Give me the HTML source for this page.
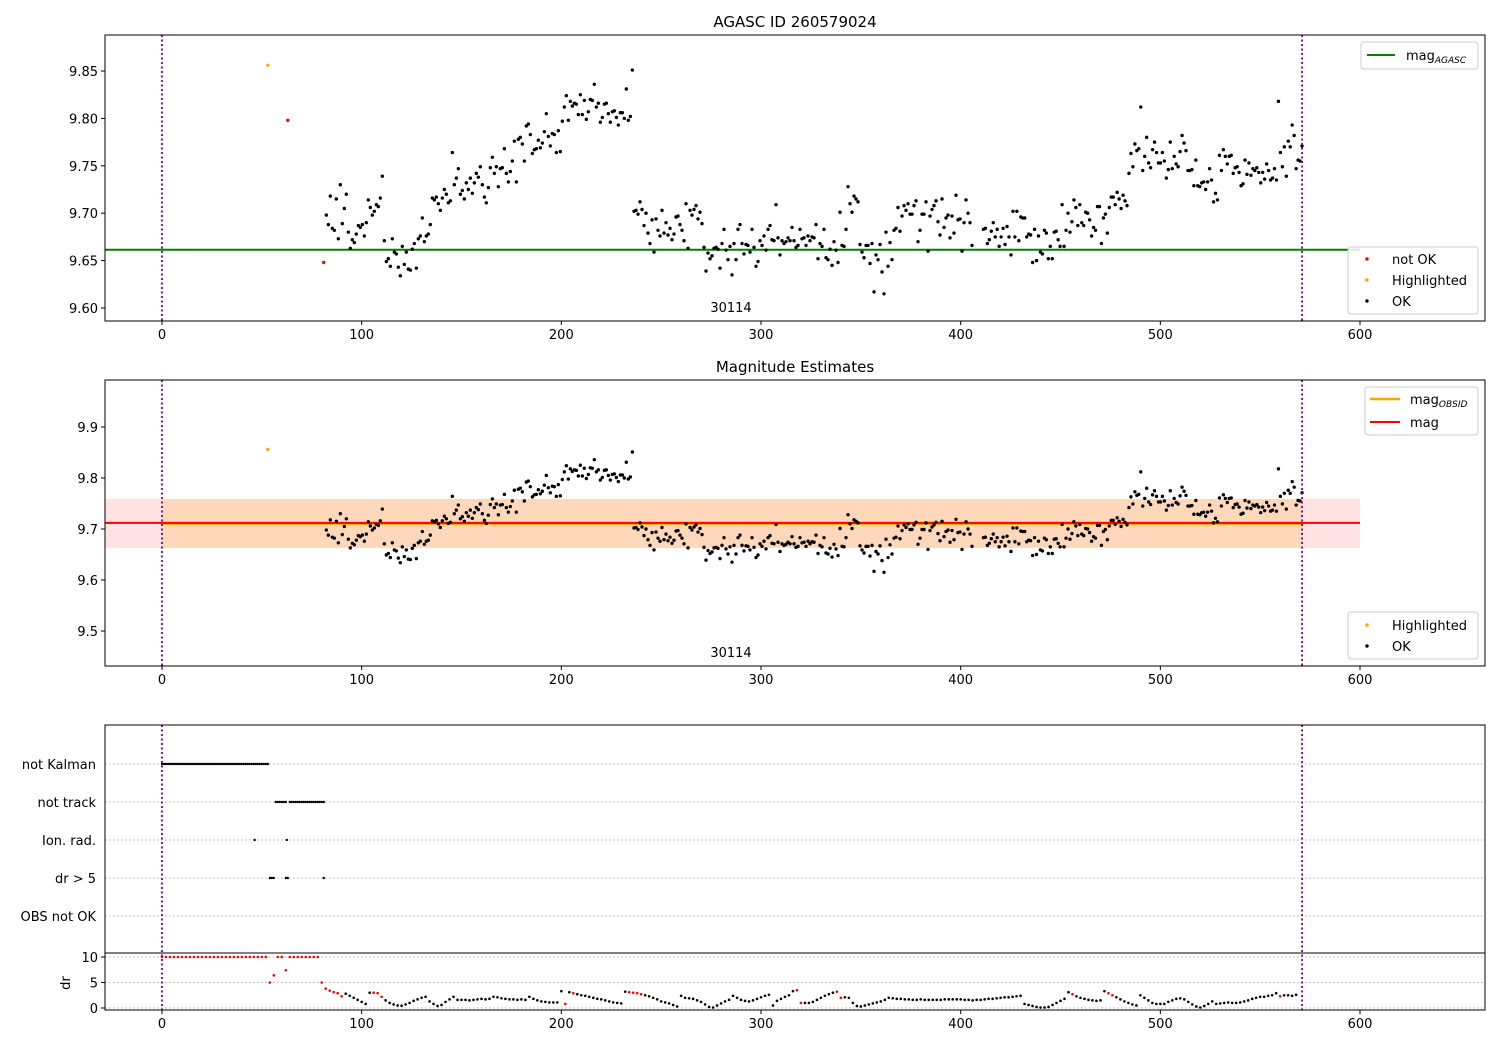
<!DOCTYPE html>
<html><head><meta charset="utf-8"><title>AGASC ID 260579024</title>
<style>
html,body{margin:0;padding:0;background:#fff;}
svg{display:block;font-family:"DejaVu Sans","Liberation Sans",sans-serif;}
</style></head>
<body>
<svg id="fig" xmlns="http://www.w3.org/2000/svg" width="1500" height="1050" viewBox="0 0 1500 1050">
<rect x="0" y="0" width="1500" height="1050" fill="#fff"/>
<text x="795" y="27" font-size="15" text-anchor="middle">AGASC ID 260579024</text>
<text x="795" y="372" font-size="15" text-anchor="middle">Magnitude Estimates</text>
<g id="p1"></g>
<g id="p2"></g>
<g id="p3"></g>
</svg>
<script>
// ---- data ----
const segAStart = 82.3, segAStep = 1.0017;
const segAMag = [9.698,9.688,9.718,9.684,9.682,9.715,9.673,9.730,9.689,9.705,9.720,9.680,9.663,9.672,9.669,9.678,9.687,9.685,9.688,9.676,9.690,9.714,9.706,9.698,9.702,9.709,9.707,9.716,9.739,9.671,9.649,9.652,9.644,9.673,9.659,9.657,9.643,9.634,9.665,9.646,9.659,9.641,9.640,9.662,9.668,9.642,9.673,9.676,9.695,9.670,9.676,9.678,9.688,9.716,9.714,9.717,9.710,9.703,9.716,9.725,9.720,9.711,9.713,9.764,9.730,9.737,9.747,9.720,9.724,9.715,9.732,9.725,9.737,9.721,9.732,9.742,9.738,9.749,9.730,9.717,9.711,9.727,9.748,9.759,9.742,9.749,9.728,9.747,9.748,9.768,9.742,9.733,9.744,9.755,9.776,9.733,9.778,9.780,9.773,9.755,9.792,9.794,9.783,9.763,9.767,9.768,9.777,9.769,9.774,9.786,9.805,9.781,9.771,9.784,9.783,9.764,9.787,9.765,9.797,9.812,9.824,9.798,9.818,9.813,9.816,9.815,9.804,9.825,9.804,9.819,9.799,9.807,9.820,9.819,9.836,9.812,9.816,9.796,9.801,9.815,9.816,9.805,9.796,9.807,9.808,9.801,9.793,9.806,9.806,9.800,9.831,9.798,9.802,9.851];
const segBStart = 236.4, segBStep = 1.0017;
const segBMag = [9.702,9.703,9.699,9.712,9.704,9.687,9.700,9.679,9.668,9.693,9.659,9.694,9.682,9.676,9.703,9.679,9.690,9.677,9.684,9.672,9.678,9.696,9.697,9.688,9.682,9.671,9.710,9.663,9.703,9.698,9.704,9.708,9.694,9.701,9.689,9.664,9.639,9.658,9.652,9.655,9.663,9.664,9.662,9.642,9.668,9.683,9.661,9.651,9.665,9.635,9.668,9.651,9.683,9.688,9.668,9.657,9.667,9.666,9.659,9.683,9.664,9.644,9.649,9.671,9.666,9.676,9.661,9.683,9.687,9.672,9.671,9.709,9.674,9.656,9.671,9.668,9.670,9.674,9.671,9.685,9.671,9.664,9.666,9.683,9.673,9.674,9.666,9.676,9.671,9.675,9.674,9.688,9.652,9.668,9.665,9.683,9.653,9.651,9.662,9.645,9.670,9.661,9.648,9.701,9.666,9.665,9.683,9.728,9.710,9.701,9.718,9.715,9.712,9.667,9.659,9.653,9.666,9.666,9.647,9.668,9.617,9.656,9.651,9.667,9.638,9.615,9.680,9.644,9.669,9.651,9.682,9.684,9.706,9.681,9.697,9.708,9.703,9.710,9.699,9.699,9.708,9.713,9.670,9.682,9.699,9.699,9.712,9.660,9.697,9.704,9.708,9.713,9.691,9.677,9.715,9.685,9.695,9.698,9.674,9.697,9.679,9.719,9.693,9.694,9.660,9.690,9.714,9.700,9.690,9.666];
const segCStart = 411.4, segCStep = 0.985;
const segCMag = [9.683,9.684,9.668,9.672,9.681,9.690,9.675,9.683,9.665,9.675,9.684,9.667,9.686,9.675,9.656,9.702,9.675,9.702,9.671,9.696,9.695,9.695,9.675,9.678,9.677,9.648,9.683,9.650,9.676,9.659,9.657,9.682,9.679,9.652,9.665,9.652,9.680,9.681,9.672,9.665,9.709,9.665,9.682,9.700,9.680,9.691,9.714,9.706,9.687,9.709,9.690,9.687,9.701,9.700,9.693,9.676,9.685,9.682,9.707,9.707,9.668,9.695,9.699,9.679,9.706,9.717,9.717,9.709,9.722,9.715,9.705,9.719,9.713,9.708,9.742,9.763,9.749,9.773,9.766,9.768,9.812,9.745,9.760,9.780,9.753,9.748,9.767,9.775,9.764,9.753,9.753,9.764,9.755,9.737,9.746,9.775,9.747,9.760,9.752,9.749,9.765,9.782,9.774,9.766,9.745,9.745,9.746,9.729,9.756,9.729,9.728,9.732,9.733,9.725,9.733,9.747,9.735,9.712,9.721,9.714,9.761,9.745,9.767,9.760,9.752,9.760,9.761,9.742,9.748,9.749,9.743,9.729,9.731,9.756,9.741,9.753,9.740,9.747,9.745,9.748,9.743,9.732,9.743,9.736,9.752,9.745,9.735,9.737,9.747,9.735,9.818,9.764,9.749,9.770,9.739,9.776,9.770,9.793,9.782,9.747,9.756,9.755,9.771];
const highlightT = [53];
const highlightMag = [9.856];
const notOkT = [63, 81];
const notOkMag = [9.798, 9.648];
const magAgasc = 9.6615;
const magObsid = 9.712;
const magMean = 9.712;
const magBandLow = 9.663;
const magBandHigh = 9.759;
const obsStart = 0, obsStop = 571;
const xTicks = [0,100,200,300,400,500,600];
const y1Ticks = ["9.60","9.65","9.70","9.75","9.80","9.85"];
const y2Ticks = ["9.5","9.6","9.7","9.8","9.9"];
const flagCats = ["not Kalman","not track","Ion. rad.","dr > 5","OBS not OK"];
const notKalmanRanges = [[0,53]];
const notTrackRanges = [[57,62],[64,81]];
const ionRadTimes = [46.4, 62.5];
const drGt5Ranges = [[54,56.5],[62,63],[81,81]];
const drStart = 0, drStep = 2;
const drVals = [10,10,10,10,10,10,10,10,10,10,10,10,10,10,10,10,10,10,10,10,10,10,10,10,10,10,10,
5.0,6.4,10,10,7.4,10,10,10,10,10,10,10,10,5.0,3.8,3.4,3.1,2.9,2.3,2.8,2.4,2.0,1.6,1.2,0.8,3.0,3.0,2.9,2.2,1.5,1.0,0.7,0.5,0.45,0.7,1.0,1.4,1.7,2.0,2.2,1.3,0.8,0.4,0.6,1.2,1.7,2.2,1.6,1.6,1.6,1.5,1.6,1.7,1.8,1.7,1.8,2.2,2.1,1.9,1.8,1.7,1.7,1.6,1.7,1.6,2.2,1.8,1.5,1.3,1.2,1.1,1.1,1.1,3.3,0.8,3.1,2.9,2.7,2.5,2.4,2.2,2.0,1.8,1.7,1.5,1.3,1.1,1.0,0.9,3.2,3.1,3.0,2.9,2.7,2.5,2.3,2.0,1.7,1.3,1.1,0.9,0.6,0.3,2.4,2.0,1.9,1.8,1.5,1.2,0.7,0.2,0.1,0.5,0.9,1.3,1.6,2.4,2.0,1.6,1.4,1.3,1.5,1.8,2.1,2.4,2.6,0.5,1.4,1.8,2.2,2.5,3.3,3.5,1.0,1.0,1.0,1.2,1.6,2.0,2.4,2.7,3.0,3.2,2.0,2.1,2.0,1.0,0.4,0.3,0.5,0.7,0.9,1.1,1.3,1.6,2.0,1.9,
1.8,1.8,1.7,1.7,1.6,1.6,1.7,1.6,1.6,1.6,1.6,1.6,1.7,1.7,1.7,1.7,1.7,1.6,1.6,1.5,1.6,1.6,1.7,1.8,1.8,1.9,
2.0,2.1,2.1,2.2,2.3,2.4,0.8,0.6,0.4,0.2,0.1,0.1,0.2,0.6,1.0,1.4,1.8,3.1,2.7,2.3,2.0,1.8,1.6,1.5,1.4,1.5,3.3,2.9,2.5,2.1,1.7,1.3,1.0,0.7,0.5,2.5,2.0,1.5,1.0,0.8,0.8,0.8,1.2,1.5,1.8,1.9,1.7,1.2,0.7,0.3,0.1,0.4,0.8,1.3,0.8,0.9,1.0,1.1,1.0,1.0,1.1,1.3,1.5,1.8,2.0,2.2,2.2,2.4,2.5,2.9,2.3,2.5,2.5,2.4,2.6];
const drRedRanges = [[0,91],[106,110],[202,202],[206,206],[234,240],[318,320],[338,340],[456,456],[474,476],[560,560]];
const drTicks = [0,5,10];

// ---- scales ----
const NS = "http://www.w3.org/2000/svg";
const X0 = 105, X1 = 1485;
function xS(t){ return 162 + t*1.99667; }
function y1(m){ return 71 + (9.85-m)*948; }
function y2(m){ return 427 + (9.9-m)*510; }
function catY(i){ return 764 + 38*i; }
function drY(d){ return 1008 - d*5.1; }
function mk(tag, attrs, parent){
  const e = document.createElementNS(NS, tag);
  for (const k in attrs) e.setAttribute(k, attrs[k]);
  parent.appendChild(e);
  return e;
}
const p1 = document.getElementById('p1');
const p2 = document.getElementById('p2');
const p3 = document.getElementById('p3');

function allPoints(){
  const pts = [];
  [[segAStart,segAStep,segAMag],[segBStart,segBStep,segBMag],[segCStart,segCStep,segCMag]].forEach(s=>{
    s[2].forEach((m,i)=>pts.push([s[0]+i*s[1], m]));
  });
  return pts;
}
const pts = allPoints();

function frame(g, top, bottom, name){
  const r = mk('rect',{x:X0,y:top,width:X1-X0,height:bottom-top,fill:'none',stroke:'#000','stroke-width':1},g);
  
  
}
function xAxis(g, bottom, name){
  const ax = mk('g',{},g);
  
  
  xTicks.forEach(v=>{
    const x = xS(v);
    mk('line',{x1:x,y1:bottom,x2:x,y2:bottom+4,stroke:'#000'},ax);
    const t = mk('text',{x:x,y:bottom+18,'font-size':13,'text-anchor':'middle'},ax);
    t.textContent = v;
  });
}
function vlines(g, top, bottom){
  [obsStart, obsStop].forEach(v=>{
    const l = mk('line',{x1:xS(v),y1:top,x2:xS(v),y2:bottom,stroke:'#800080','stroke-width':1.8,'stroke-dasharray':'2,2.5'},g);
    
    
  });
}
function dot(g, x, y, r, fill, name){
  const c = mk('circle',{cx:x,cy:y,r:r,fill:fill},g);
  
  
  return c;
}
function legendBox(g, x, y, w, h, name){
  const lg = mk('g',{},g);
  
  
  mk('rect',{x:x,y:y,width:w,height:h,rx:3,fill:'#fff','fill-opacity':0.85,stroke:'#ccc'},lg);
  return lg;
}
function label(g, x, y, txt, size, anchor){
  const t = mk('text',{x:x,y:y,'font-size':size,'text-anchor':anchor||'start'},g);
  t.textContent = txt;
  return t;
}

// ===== Panel 1 =====
(function(){
  const g = p1;
  mk('line',{x1:X0,y1:y1(magAgasc),x2:xS(600),y2:y1(magAgasc),stroke:'#008000','stroke-width':2},g);
  pts.forEach(p=>dot(g, xS(p[0]), y1(p[1]), 1.7, '#000', 'ok-point'));
  highlightT.forEach((t,i)=>dot(g, xS(t), y1(highlightMag[i]), 1.7, '#ffa500', 'highlighted-point'));
  notOkT.forEach((t,i)=>dot(g, xS(t), y1(notOkMag[i]), 1.7, '#ff0000', 'not-ok-point'));
  vlines(g, 35, 321);
  frame(g, 35, 321, 'agasc-plot-area');
  const ya = mk('g',{},g);
  
  
  y1Ticks.forEach(s=>{
    const y = y1(parseFloat(s));
    mk('line',{x1:X0-4,y1:y,x2:X0,y2:y,stroke:'#000'},ya);
    label(ya, X0-7, y+5, s, 13, 'end');
  });
  xAxis(g, 321, 'x-axis-agasc');
  label(g, 731, 312, '30114', 13, 'middle');
  const lg = legendBox(g, 1361, 42, 117, 27, 'legend-agasc');
  mk('line',{x1:1367,y1:55,x2:1395,y2:55,stroke:'#008000','stroke-width':2},lg);
  const t = label(lg, 1406, 60, 'mag', 13); 
  const s = mk('tspan',{'font-size':9,'font-style':'italic',dy:3},t); s.textContent='AGASC';
  const lg2 = legendBox(g, 1348, 247, 130, 67, 'legend-points');
  dot(lg2, 1367, 259, 1.7, '#ff0000', 'legend-not-ok-marker');
  label(lg2, 1392, 264, 'not OK', 13);
  dot(lg2, 1367, 280, 1.7, '#ffa500', 'legend-highlighted-marker');
  label(lg2, 1392, 285, 'Highlighted', 13);
  dot(lg2, 1367, 301, 1.7, '#000', 'legend-ok-marker');
  label(lg2, 1392, 306, 'OK', 13);
})();

// ===== Panel 2 =====
(function(){
  const g = p2;
  const b1 = mk('rect',{x:X0,y:y2(magBandHigh),width:xS(600)-X0,height:y2(magBandLow)-y2(magBandHigh),fill:'#ff0000','fill-opacity':0.11},g);
  
  const b2 = mk('rect',{x:xS(obsStart),y:y2(magBandHigh),width:xS(obsStop)-xS(obsStart),height:y2(magBandLow)-y2(magBandHigh),fill:'#ffa500','fill-opacity':0.17},g);
  
  mk('line',{x1:xS(obsStart),y1:y2(magObsid)+1,x2:xS(obsStop),y2:y2(magObsid)+1,stroke:'#ffa500','stroke-width':2},g);
  mk('line',{x1:X0,y1:y2(magMean),x2:xS(600),y2:y2(magMean),stroke:'#ff0000','stroke-width':2},g);
  pts.forEach(p=>dot(g, xS(p[0]), y2(p[1]), 1.7, '#000', 'ok-point'));
  highlightT.forEach((t,i)=>dot(g, xS(t), y2(highlightMag[i]), 1.7, '#ffa500', 'highlighted-point'));
  vlines(g, 380, 666);
  frame(g, 380, 666, 'estimates-plot-area');
  const ya = mk('g',{},g);
  
  
  y2Ticks.forEach(s=>{
    const y = y2(parseFloat(s));
    mk('line',{x1:X0-4,y1:y,x2:X0,y2:y,stroke:'#000'},ya);
    label(ya, X0-7, y+5, s, 13, 'end');
  });
  xAxis(g, 666, 'x-axis-estimates');
  label(g, 731, 657, '30114', 13, 'middle');
  const lg = legendBox(g, 1365, 387, 113, 48, 'legend-mag-lines');
  mk('line',{x1:1370,y1:399,x2:1400,y2:399,stroke:'#ffa500','stroke-width':2.5},lg);
  const t = label(lg, 1410, 404, 'mag', 13);
  const s = mk('tspan',{'font-size':9,'font-style':'italic',dy:3},t); s.textContent='OBSID';
  mk('line',{x1:1370,y1:422,x2:1400,y2:422,stroke:'#ff0000','stroke-width':2},lg);
  label(lg, 1410, 427, 'mag', 13);
  const lg2 = legendBox(g, 1348, 612, 130, 47, 'legend-points');
  dot(lg2, 1367, 625, 1.7, '#ffa500', 'legend-highlighted-marker');
  label(lg2, 1392, 630, 'Highlighted', 13);
  dot(lg2, 1367, 646, 1.7, '#000', 'legend-ok-marker');
  label(lg2, 1392, 651, 'OK', 13);
})();

// ===== Panel 3 =====
(function(){
  const g = p3;
  flagCats.forEach((c,i)=>{
    mk('line',{x1:X0,y1:catY(i),x2:X1,y2:catY(i),stroke:'#b0b0b0','stroke-dasharray':'1.5,2.5'},g);
    const t = label(g, 96, catY(i)+5, c, 13, 'end');
    
    
  });
  drTicks.forEach(v=>{
    mk('line',{x1:X0,y1:drY(v),x2:X1,y2:drY(v),stroke:'#b0b0b0','stroke-dasharray':'1.5,2.5'},g);
    mk('line',{x1:X0-4,y1:drY(v),x2:X0,y2:drY(v),stroke:'#000'},g);
    label(g, X0-7, drY(v)+5, String(v), 13, 'end');
  });
  function flagRanges(ranges, row, name){
    ranges.forEach(r=>{
      for(let t=r[0]; t<=r[1]+1e-6; t+=1){ dot(g, xS(t), catY(row), 1.2, '#000', name); }
    });
  }
  flagRanges(notKalmanRanges, 0, 'not-kalman-flag');
  flagRanges(notTrackRanges, 1, 'not-track-flag');
  ionRadTimes.forEach(t=>dot(g, xS(t), catY(2), 1.2, '#000', 'ion-rad-flag'));
  flagRanges(drGt5Ranges, 3, 'dr-gt-5-flag');
  function isRed(t){ return drRedRanges.some(r=>t>=r[0]-0.01 && t<=r[1]+0.01); }
  drVals.forEach((d,i)=>{
    const t = drStart + i*drStep;
    const red = isRed(t);
    dot(g, xS(t), drY(d), 1.3, red ? '#ff0000' : '#000', red ? 'dr-point-not-ok' : 'dr-point');
  });
  mk('line',{x1:X0,y1:953,x2:X1,y2:953,stroke:'#000'},g);
  vlines(g, 725, 1010);
  frame(g, 725, 1010, 'flags-plot-area');
  const yl = mk('text',{x:70,y:983,'font-size':13,'text-anchor':'middle',transform:'rotate(-90 70 983)'},g);
  yl.textContent = 'dr';
  
  
  xAxis(g, 1010, 'x-axis-flags');
})();
</script>
</body></html>
